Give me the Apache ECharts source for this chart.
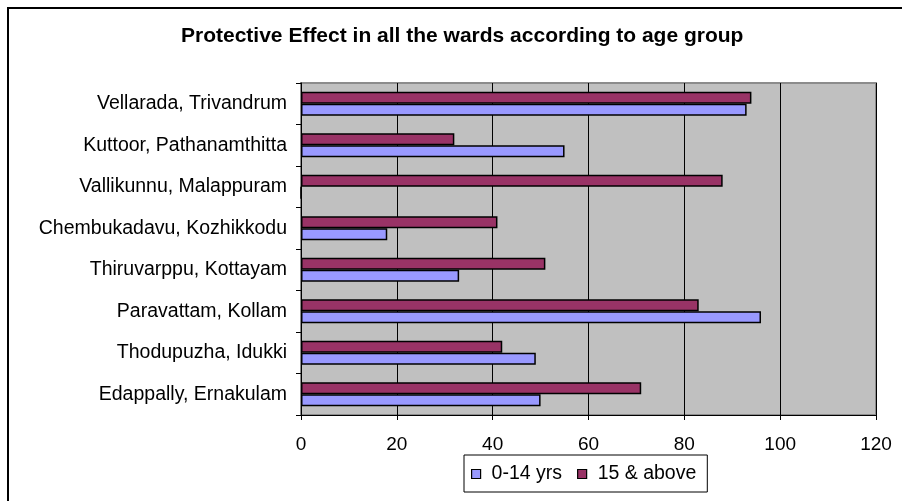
<!DOCTYPE html>
<html>
<head>
<meta charset="utf-8">
<script src="https://cdn.jsdelivr.net/npm/echarts@6/dist/echarts.min.js"></script>
<style>html,body{margin:0;padding:0;background:#fff;}#c{width:902px;height:501px;}</style>
</head>
<body>
<div id="c"></div>
<script>
var categories = ["Vellarada, Trivandrum","Kuttoor, Pathanamthitta","Vallikunnu, Malappuram","Chembukadavu, Kozhikkodu","Thiruvarppu, Kottayam","Paravattam, Kollam","Thodupuzha, Idukki","Edappally, Ernakulam"];
var young = [93, 55, 0, 18, 33, 96, 49, 50];
var adult = [94, 32, 88, 41, 51, 83, 42, 71];
var seriesNames = ["0-14 yrs", "15 & above"];
var xTicks = [0, 20, 40, 60, 80, 100, 120];

var chart = echarts.init(document.getElementById('c'), null, {renderer: 'canvas'});
var font = 'Arial, "Liberation Sans", sans-serif';
chart.setOption({
  animation: false,
  backgroundColor: '#fff',
  graphic: [{
    type: 'rect', shape: {x: 8, y: 8, width: 900, height: 500},
    style: {fill: 'none', stroke: '#000', lineWidth: 2}, silent: true
  }],
  title: {
    text: 'Protective Effect in all the wards according to age group',
    left: 176, top: 21,
    textStyle: {fontFamily: font, fontSize: 21, fontWeight: 'bold', color: '#000'}
  },
  grid: {
    left: 301, right: 26, top: 83, bottom: 86,
    show: true, backgroundColor: '#C0C0C0', borderColor: '#8c8c8c', borderWidth: 2
  },
  legend: {
    left: 464, top: 455,
    data: seriesNames,
    itemWidth: 9, itemHeight: 9, itemGap: 15,
    padding: [9, 11, 8, 7],
    borderColor: '#000', borderWidth: 1, backgroundColor: '#fff',
    textStyle: {fontFamily: font, fontSize: 19.5, color: '#000', padding: [0, 0, 0, 6]},
    icon: 'rect',
    itemStyle: {borderColor: '#000', borderWidth: 1.2}
  },
  xAxis: {
    type: 'value', min: xTicks[0], max: xTicks[xTicks.length - 1], interval: 20,
    axisLine: {show: true, lineStyle: {color: '#000', width: 1}},
    axisTick: {show: true, length: 5, lineStyle: {color: '#000'}},
    axisLabel: {fontFamily: font, fontSize: 19, color: '#000', margin: 20},
    splitLine: {show: true, lineStyle: {color: '#000', width: 1}}
  },
  yAxis: {
    type: 'category', data: categories, inverse: true,
    axisLine: {show: true, lineStyle: {color: '#000', width: 1}},
    axisTick: {show: true, length: 5, lineStyle: {color: '#000'}},
    axisLabel: {fontFamily: font, fontSize: 19.5, color: '#000', margin: 14}
  },
  series: [
    {name: seriesNames[1], type: 'bar', data: adult, barWidth: 12, barGap: '0%',
     itemStyle: {color: '#993366', borderColor: '#000', borderWidth: 1.5}},
    {name: seriesNames[0], type: 'bar', data: young, barWidth: 12, barGap: '0%',
     itemStyle: {color: '#9999FF', borderColor: '#000', borderWidth: 1.5}}
  ]
});
</script>
</body>
</html>
